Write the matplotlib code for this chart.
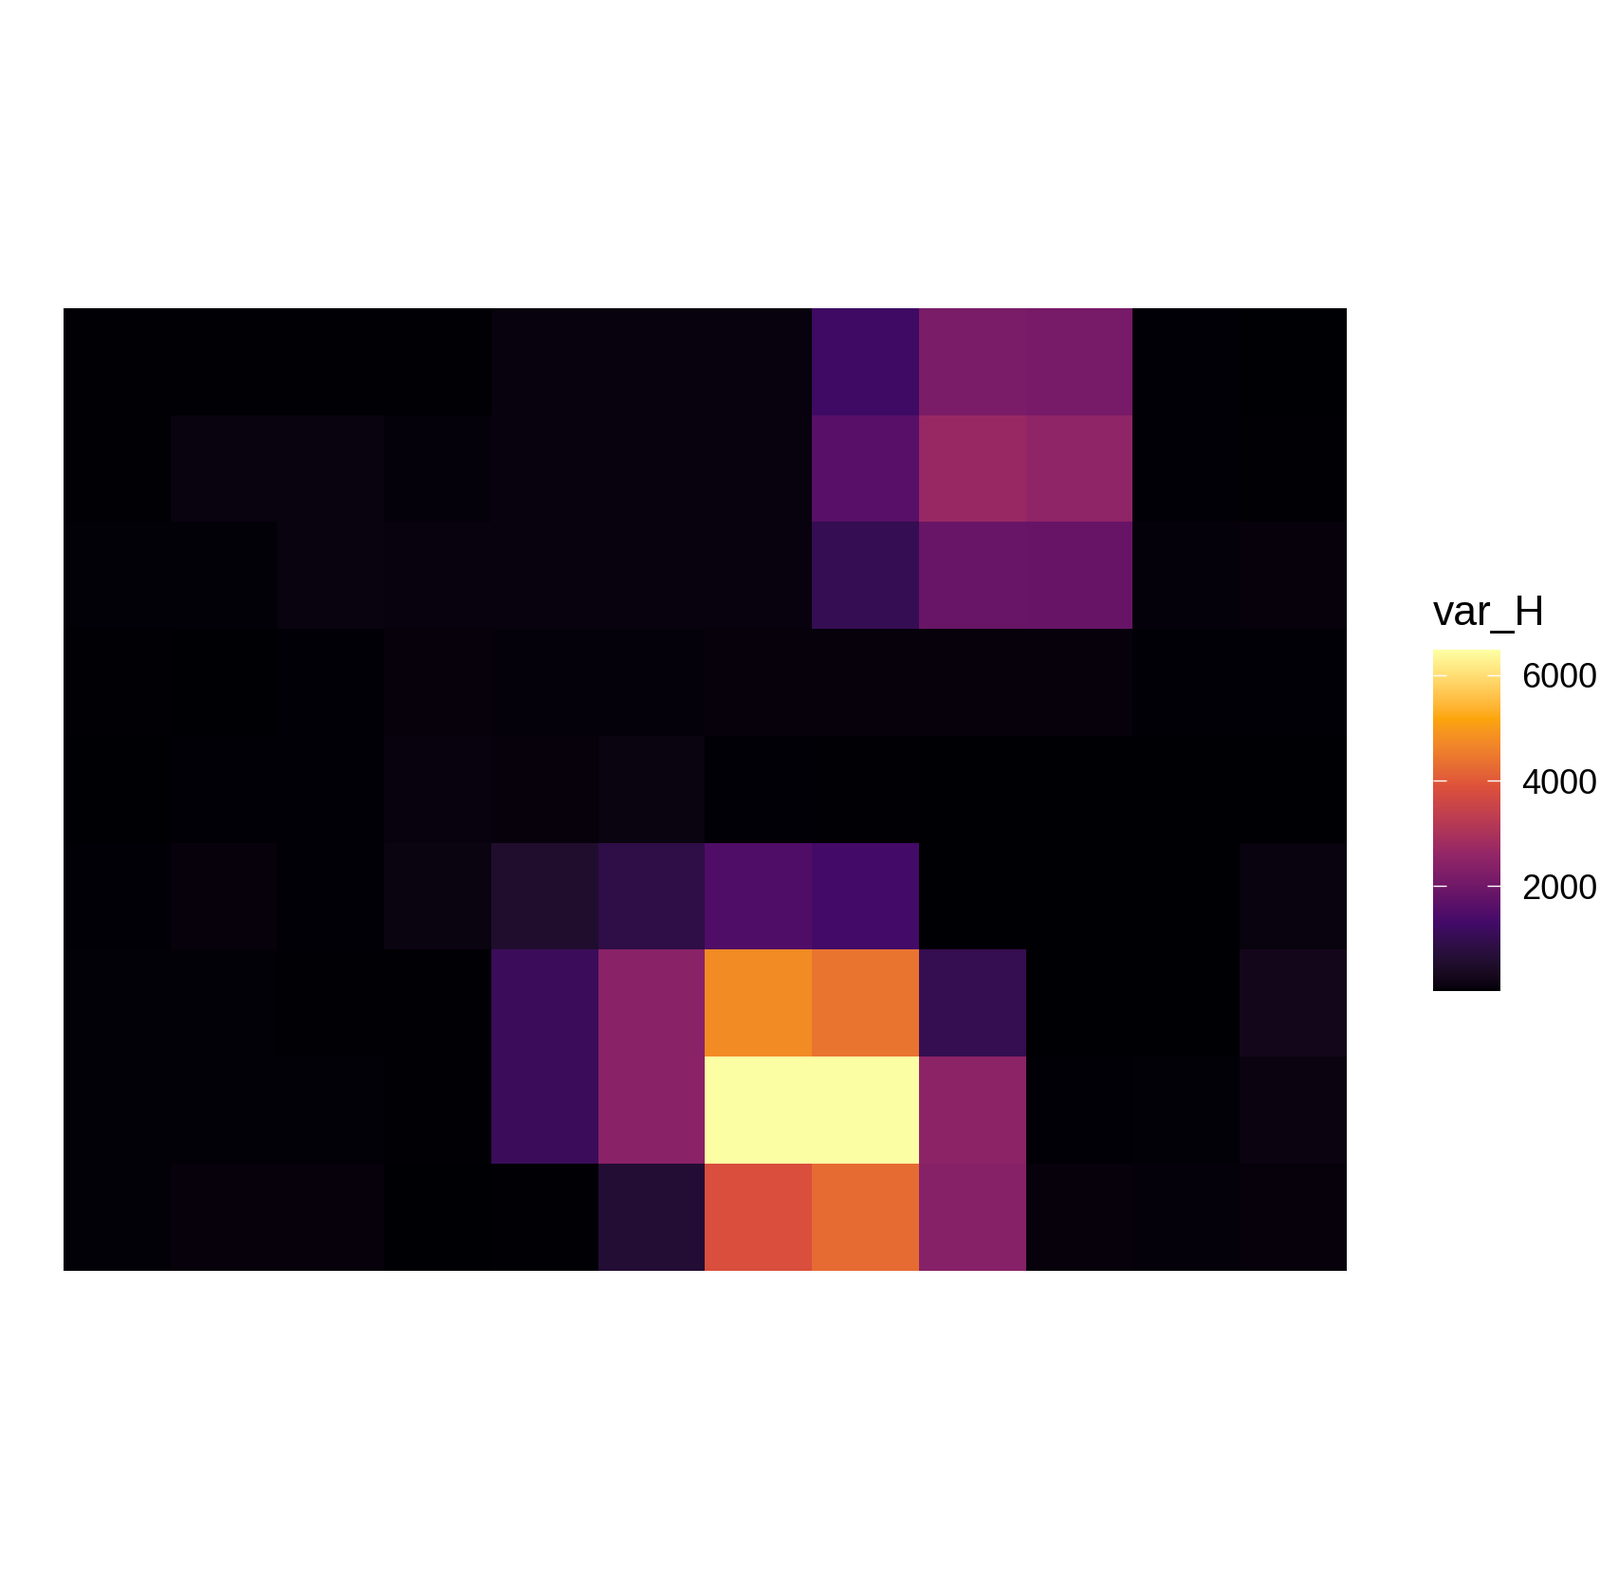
import numpy as np
import matplotlib
matplotlib.use("Agg")
import matplotlib.pyplot as plt
from matplotlib.colors import ListedColormap, to_rgb

# var_H grid, top row first, 12 columns each
row1 = [20, 20, 20, 20, 90, 90, 90, 1250, 2190, 2125, 40, 10]
row2 = [20, 110, 110, 65, 100, 100, 100, 1620, 2680, 2530, 40, 30]
row3 = [55, 55, 115, 105, 105, 105, 105, 1040, 1890, 1870, 65, 80]
row4 = [25, 12, 35, 80, 65, 65, 75, 75, 75, 75, 40, 40]
row5 = [15, 35, 35, 100, 80, 120, 35, 20, 10, 10, 10, 15]
row6 = [40, 70, 35, 130, 550, 900, 1500, 1330, 10, 10, 10, 110]
row7 = [55, 55, 30, 30, 1140, 2450, 4770, 4400, 1020, 5, 5, 260]
row8 = [55, 55, 50, 30, 1140, 2450, 6480, 6470, 2480, 40, 55, 140]
row9 = [55, 70, 70, 12, 25, 630, 3820, 4270, 2400, 80, 60, 80]

var_H = np.array([row1, row2, row3, row4, row5, row6, row7, row8, row9])
cbar_ticks = [2000, 4000, 6000]

# ggplot's viridis "inferno" scale: 6 colours, interpolated in Lab space
inferno6 = ["#000004", "#420A68", "#932667", "#DD513A", "#FCA50A", "#FCFFA4"]

M = np.array([[0.4124, 0.3576, 0.1805],
              [0.2126, 0.7152, 0.0722],
              [0.0193, 0.1192, 0.9505]])
WHITE = np.array([0.95047, 1.0, 1.08883])
D = 6 / 29


def to_lab(rgb):
    c = np.array(rgb)
    lin = np.where(c <= 0.04045, c / 12.92, ((c + 0.055) / 1.055) ** 2.4)
    xyz = M @ lin / WHITE
    f = np.where(xyz > D ** 3, np.cbrt(xyz), xyz / (3 * D ** 2) + 4 / 29)
    return np.array([116 * f[1] - 16, 500 * (f[0] - f[1]), 200 * (f[1] - f[2])])


def from_lab(lab):
    fy = (lab[0] + 16) / 116
    f = np.array([fy + lab[1] / 500, fy, fy - lab[2] / 200])
    xyz = np.where(f > D, f ** 3, 3 * D ** 2 * (f - 4 / 29)) * WHITE
    lin = np.linalg.solve(M, xyz)
    lin = np.clip(lin, 0, 1)
    c = np.where(lin <= 0.0031308, 12.92 * lin, 1.055 * lin ** (1 / 2.4) - 0.055)
    return np.clip(c, 0, 1)


labs = [to_lab(to_rgb(c)) for c in inferno6]
stops = np.linspace(0, 1, len(inferno6))
colors = []
for t in np.linspace(0, 1, 512):
    i = min(np.searchsorted(stops, t, side="right") - 1, len(stops) - 2)
    w = (t - stops[i]) / (stops[i + 1] - stops[i])
    colors.append(from_lab(labs[i] * (1 - w) + labs[i + 1] * w))
cmap = ListedColormap(colors)

plt.rcParams['font.family'] = ['Liberation Sans', 'DejaVu Sans']

fig = plt.figure(figsize=(16.87, 16.66), dpi=100)
ax = fig.add_axes([0.0397, 0.1957, 0.802, 0.609])
nrows, ncols = var_H.shape
im = ax.imshow(var_H, cmap=cmap, aspect="auto", interpolation="nearest",
               extent=[0.5, ncols + 0.5, nrows + 0.5, 0.5],
               vmin=var_H.min(), vmax=var_H.max())
ax.set_axis_off()

cax = fig.add_axes([0.8955, 0.3727, 0.0424, 0.216])
cbar = fig.colorbar(im, cax=cax, ticks=cbar_ticks)
cbar.outline.set_visible(False)
cax.tick_params(direction="in", color="white", length=10, width=1.0,
                left=True, right=True, labelleft=False, labelright=True,
                labelsize=26, pad=16)
fig.text(0.8955, 1 - 659 / 1666, "var_H", fontsize=32, ha="left", va="baseline")

fig.savefig("out.png", dpi=100, facecolor="white")
